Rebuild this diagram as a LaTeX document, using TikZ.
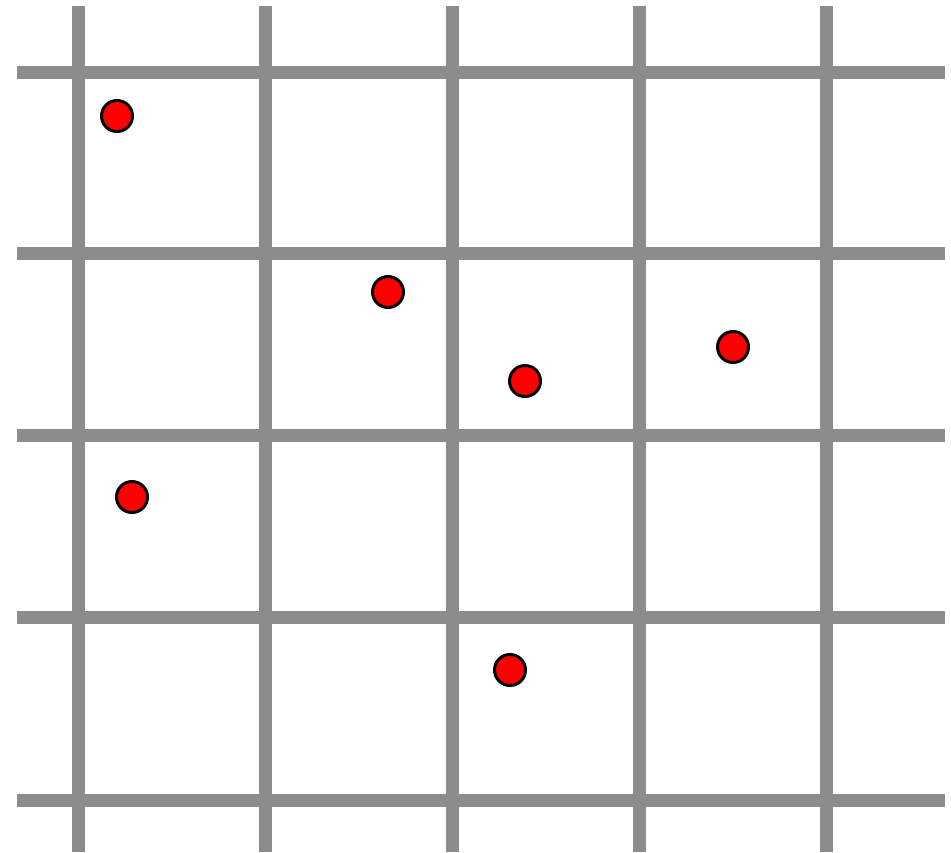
\documentclass[tikz,border=0pt]{standalone}
\definecolor{gridgray}{HTML}{8C8C8C}
\begin{document}
\begin{tikzpicture}[x=1pt,y=-1pt,
  gridline/.style={draw=gridgray,line width=13pt},
  dot/.style={circle,draw=black,fill=red,line width=3pt,minimum size=31pt,inner sep=0pt}]
\useasboundingbox (0,0) rectangle (951,852);
\foreach \x in {78,265,452,639,826} \draw[gridline] (\x,6) -- (\x,852);
\foreach \y in {72,253,435,617,800} \draw[gridline] (17,\y) -- (945,\y);
\node[dot] (p1) at (117,116) {};
\node[dot] (p2) at (388,292) {};
\node[dot] (p3) at (525,381) {};
\node[dot] (p4) at (733,347) {};
\node[dot] (p5) at (132,497) {};
\node[dot] (p6) at (510,670) {};
\end{tikzpicture}
\end{document}
